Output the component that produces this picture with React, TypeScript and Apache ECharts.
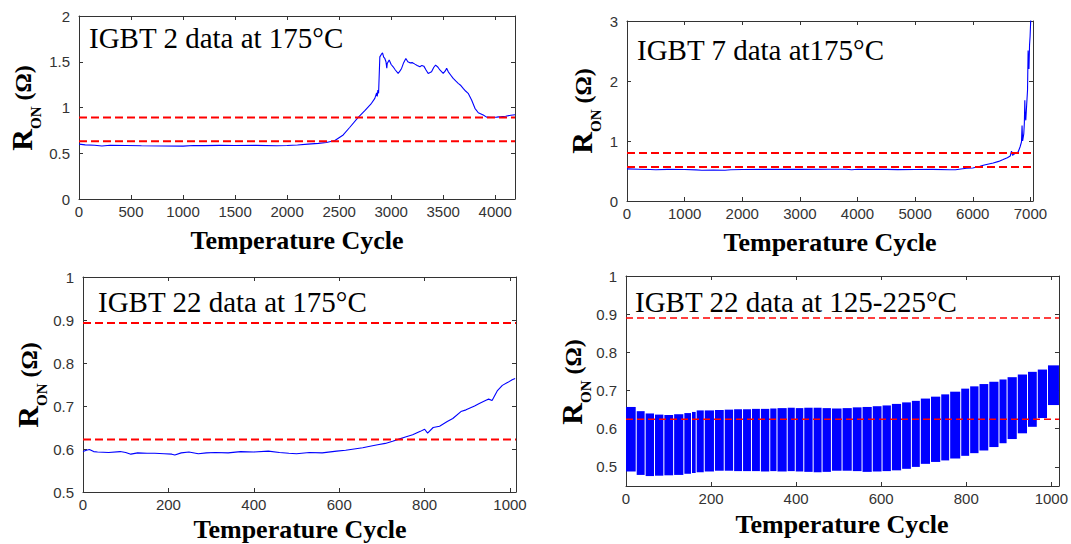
import React, { useEffect, useRef } from "react";
import * as echarts from "echarts";

const SERIF = '"Liberation Serif", "Times New Roman", serif';
const SANS = '"Liberation Sans", Arial, sans-serif';
const BLUE = "#0000ff";
const RED = "#ff0000";
const AXIS = "#333333";

// ---------- IGBT 2 data at 175°C ----------
const ig2Cycles = [0, 60, 150, 220, 300, 450, 600, 800, 1000, 1100, 1200, 1350, 1500, 1700, 1900, 2000, 2100, 2200, 2300, 2379, 2459, 2539, 2603, 2683, 2747, 2811, 2843, 2860, 2866, 2872, 2879, 2891, 2905, 2917, 2928, 2939, 2950, 2958, 2962, 2981, 3000, 3019, 3040, 3067, 3085, 3100, 3120, 3141, 3160, 3180, 3205, 3228, 3250, 3276, 3295, 3314, 3335, 3356, 3388, 3410, 3427, 3450, 3468, 3500, 3520, 3533, 3549, 3575, 3596, 3620, 3644, 3670, 3692, 3715, 3740, 3773, 3805, 3837, 3885, 3917, 3960, 4013, 4060, 4100, 4150, 4190];
const ig2Ron = [0.600, 0.592, 0.588, 0.580, 0.587, 0.585, 0.582, 0.580, 0.578, 0.585, 0.583, 0.586, 0.584, 0.586, 0.582, 0.585, 0.590, 0.600, 0.608, 0.617, 0.640, 0.700, 0.784, 0.893, 0.965, 1.046, 1.100, 1.160, 1.120, 1.190, 1.155, 1.553, 1.580, 1.597, 1.550, 1.536, 1.500, 1.430, 1.480, 1.520, 1.470, 1.445, 1.410, 1.372, 1.400, 1.427, 1.490, 1.536, 1.500, 1.488, 1.490, 1.474, 1.460, 1.445, 1.460, 1.452, 1.410, 1.372, 1.390, 1.440, 1.463, 1.440, 1.410, 1.372, 1.400, 1.430, 1.390, 1.350, 1.318, 1.290, 1.264, 1.240, 1.209, 1.180, 1.155, 1.082, 0.991, 0.943, 0.918, 0.895, 0.893, 0.895, 0.900, 0.905, 0.915, 0.920];
const ig2Limits = [0.89, 0.63];

// ---------- IGBT 7 data at 175°C ----------
const ig7Cycles = [0, 200, 400, 500, 700, 1000, 1200, 1300, 1500, 1700, 1800, 2000, 2500, 3000, 3500, 3800, 3900, 4000, 4500, 4700, 5000, 5300, 5600, 5700, 5892, 6000, 6123, 6200, 6354, 6450, 6527, 6600, 6650, 6672, 6690, 6730, 6787, 6820, 6845, 6855, 6865, 6885, 6895, 6903, 6910, 6920, 6935, 6950, 6960, 6968, 6975, 6985, 6995, 7007];
const ig7Ron = [0.535, 0.530, 0.525, 0.520, 0.527, 0.525, 0.518, 0.512, 0.515, 0.512, 0.520, 0.525, 0.527, 0.527, 0.528, 0.530, 0.520, 0.528, 0.527, 0.523, 0.526, 0.527, 0.522, 0.520, 0.545, 0.550, 0.578, 0.600, 0.633, 0.660, 0.690, 0.720, 0.750, 0.830, 0.760, 0.790, 0.817, 0.900, 0.983, 1.260, 1.000, 1.120, 1.300, 1.680, 1.400, 1.345, 1.600, 1.845, 2.510, 2.300, 2.200, 2.600, 2.750, 3.050];
const ig7Limits = [0.80, 0.567];

// ---------- IGBT 22 data at 175°C ----------
const ig22Cycles = [0, 8, 15, 25, 34, 60, 87, 100, 112, 128, 150, 168, 190, 208, 215, 230, 248, 270, 289, 310, 340, 369, 400, 434, 460, 482, 500, 530, 560, 594, 615, 635, 655, 675, 690, 708, 725, 740, 755, 772, 790, 800, 807, 820, 835, 853, 866, 885, 897, 917, 928, 945, 950, 958, 970, 982, 995, 1005, 1012];
const ig22Ron = [0.594, 0.597, 0.599, 0.594, 0.593, 0.592, 0.594, 0.592, 0.588, 0.591, 0.590, 0.590, 0.589, 0.588, 0.586, 0.591, 0.593, 0.589, 0.591, 0.592, 0.591, 0.594, 0.593, 0.595, 0.592, 0.590, 0.589, 0.592, 0.591, 0.595, 0.597, 0.600, 0.603, 0.607, 0.610, 0.613, 0.618, 0.623, 0.628, 0.633, 0.641, 0.646, 0.637, 0.650, 0.653, 0.664, 0.671, 0.687, 0.691, 0.700, 0.706, 0.714, 0.716, 0.713, 0.735, 0.748, 0.755, 0.761, 0.764];
const ig22Limits = [0.893, 0.622];

// ---------- IGBT 22 data at 125-225°C (cycling band, segments between gaps) ----------
const bandEdges = [0, 24, 45, 67, 89, 112, 136, 154, 165, 184, 208, 231, 253, 274, 295, 316, 338, 355, 379, 398, 418, 440, 461, 483, 508, 532, 555, 579, 602, 624, 648, 671, 692, 716, 740, 761, 787, 808, 830, 853, 877, 896, 920, 944, 967, 991, 1018];
const bandHigh = [0.657, 0.646, 0.640, 0.637, 0.636, 0.638, 0.641, 0.644, 0.648, 0.648, 0.649, 0.650, 0.651, 0.651, 0.652, 0.652, 0.653, 0.654, 0.655, 0.654, 0.655, 0.655, 0.654, 0.653, 0.654, 0.656, 0.657, 0.659, 0.661, 0.665, 0.669, 0.673, 0.679, 0.684, 0.690, 0.697, 0.705, 0.711, 0.717, 0.723, 0.729, 0.735, 0.742, 0.749, 0.755, 0.766];
const bandLow = [0.488, 0.479, 0.476, 0.477, 0.478, 0.479, 0.482, 0.484, 0.486, 0.488, 0.490, 0.490, 0.489, 0.489, 0.489, 0.488, 0.489, 0.488, 0.489, 0.488, 0.487, 0.486, 0.487, 0.490, 0.490, 0.489, 0.487, 0.488, 0.489, 0.491, 0.495, 0.500, 0.508, 0.513, 0.517, 0.522, 0.529, 0.536, 0.543, 0.552, 0.562, 0.573, 0.588, 0.605, 0.628, 0.662];
const bandLimits = [0.89, 0.625];

// axis ranges
const xRanges = [
  { min: 0, max: 4190, interval: 500 },
  { min: 0, max: 7045, interval: 1000 },
  { min: 0, max: 1014, interval: 200 },
  { min: 0, max: 1018, interval: 200 },
];
const yRanges: any[] = [
  { min: 0, max: 2, interval: 0.5 },
  { min: 0, max: 3, interval: 1 },
  { min: 0.5, max: 1, interval: 0.1 },
  { min: 0.45, max: 1 },
];

const titles = [
  "IGBT 2 data at 175°C",
  "IGBT 7 data at175°C",
  "IGBT 22 data at 175°C",
  "IGBT 22 data at 125-225°C",
];
const xName = "Temperature Cycle";

const grids = [
  { left: 79, top: 16, width: 436, height: 183 },
  { left: 627, top: 21, width: 406, height: 180 },
  { left: 83, top: 277, width: 433, height: 215 },
  { left: 626, top: 276, width: 433, height: 210 },
];
const titlePos = [
  [89, 38],
  [637, 50],
  [98, 302],
  [635, 302],
];
const xNamePos = [
  [297, 240],
  [830, 242],
  [300, 529],
  [842, 524],
];
const yNamePos = [
  [21, 108],
  [581, 111],
  [27, 385],
  [571, 382],
];

function pairs(xs: number[], ys: number[]) {
  return xs.map((x, i) => [x, ys[i]]);
}

const fmt = (v: number) => String(Number(v.toFixed(3)));

function makeXAxis(i: number, top: boolean) {
  const r = xRanges[i];
  return {
    type: "value",
    gridIndex: i,
    position: top ? "top" : "bottom",
    min: r.min,
    max: r.max,
    interval: r.interval,
    axisLine: { show: true, onZero: false, lineStyle: { color: AXIS, width: 1 } },
    axisTick: { show: true, inside: true, length: 4, lineStyle: { color: AXIS } },
    axisLabel: {
      show: !top,
      color: "#333",
      fontFamily: SANS,
      fontSize: 15,
      margin: 5,
      showMaxLabel: false,
      formatter: fmt,
    },
    splitLine: { show: false },
  };
}

function makeYAxis(i: number, right: boolean) {
  const r = yRanges[i];
  const ax: any = {
    type: "value",
    gridIndex: i,
    position: right ? "right" : "left",
    min: r.min,
    max: r.max,
    axisLine: { show: true, onZero: false, lineStyle: { color: AXIS, width: 1 } },
    axisTick: { show: true, inside: true, length: 4, lineStyle: { color: AXIS } },
    axisLabel: {
      show: !right,
      color: "#333",
      fontFamily: SANS,
      fontSize: 15,
      margin: 9,
      showMinLabel: i === 3 ? false : true,
      showMaxLabel: true,
      formatter: fmt,
    },
    splitLine: { show: false },
  };
  if (r.interval !== undefined) ax.interval = r.interval;
  return ax;
}

function limitSeries(limits: number[], gi: number, width: number, dash: number[]) {
  const xmax = xRanges[gi].max;
  return limits.map((v) => ({
    type: "line",
    xAxisIndex: gi * 2,
    yAxisIndex: gi * 2,
    data: [
      [xRanges[gi].min, v],
      [xmax, v],
    ],
    symbol: "none",
    silent: true,
    z: 5,
    lineStyle: { color: RED, width, type: dash },
  }));
}

function dataLine(xs: number[], ys: number[], gi: number) {
  return {
    type: "line",
    xAxisIndex: gi * 2,
    yAxisIndex: gi * 2,
    data: pairs(xs, ys),
    symbol: "none",
    silent: true,
    clip: true,
    z: 3,
    lineStyle: { color: BLUE, width: 1.1 },
  };
}

function yLabel(x: number, y: number) {
  return {
    type: "text",
    x,
    y,
    rotation: Math.PI / 2,
    silent: true,
    style: {
      text: "{r|R}{s|ON}{p| (Ω)}",
      align: "center",
      verticalAlign: "middle",
      fill: "#000",
      rich: {
        r: { fontFamily: SERIF, fontWeight: "bold", fontSize: 30, lineHeight: 30, verticalAlign: "top", fill: "#000" },
        s: { fontFamily: SERIF, fontWeight: "bold", fontSize: 15, lineHeight: 15, padding: [22, 0, 0, 0], verticalAlign: "top", fill: "#000" },
        p: { fontFamily: SERIF, fontWeight: "bold", fontSize: 24, lineHeight: 24, padding: [5, 0, 0, 0], verticalAlign: "top", fill: "#000" },
      },
    },
  };
}

export default function App() {
  const ref = useRef<HTMLDivElement>(null);

  useEffect(() => {
    if (!ref.current) return;
    const chart = echarts.init(ref.current, undefined, { renderer: "svg" });

    const xAxis: any[] = [];
    const yAxis: any[] = [];
    for (let i = 0; i < 4; i++) {
      xAxis.push(makeXAxis(i, false), makeXAxis(i, true));
      yAxis.push(makeYAxis(i, false), makeYAxis(i, true));
    }

    const bandData = bandHigh.map((h, i) => [bandEdges[i], bandEdges[i + 1], bandLow[i], h]);

    const graphic: any[] = [];
    titles.forEach((t, i) => {
      graphic.push({
        type: "text",
        x: titlePos[i][0],
        y: titlePos[i][1],
        silent: true,
        style: { text: t, fontFamily: SERIF, fontSize: 29, fill: "#000", align: "left", verticalAlign: "middle" },
      });
      graphic.push({
        type: "text",
        x: xNamePos[i][0],
        y: xNamePos[i][1],
        silent: true,
        style: { text: xName, fontFamily: SERIF, fontWeight: "bold", fontSize: 26, fill: "#000", align: "center", verticalAlign: "middle" },
      });
      graphic.push(yLabel(yNamePos[i][0], yNamePos[i][1]));
    });

    const option: any = {
      animation: false,
      backgroundColor: "#ffffff",
      grid: grids.map((g) => ({ ...g, containLabel: false })),
      xAxis,
      yAxis,
      graphic,
      series: [
        dataLine(ig2Cycles, ig2Ron, 0),
        ...limitSeries(ig2Limits, 0, 2, [8, 4]),
        dataLine(ig7Cycles, ig7Ron, 1),
        ...limitSeries(ig7Limits, 1, 2, [8, 4]),
        dataLine(ig22Cycles, ig22Ron, 2),
        ...limitSeries(ig22Limits, 2, 2, [8, 4]),
        {
          type: "custom",
          xAxisIndex: 6,
          yAxisIndex: 6,
          data: bandData,
          encode: { x: [0, 1], y: [2, 3] },
          silent: true,
          clip: true,
          z: 2,
          renderItem: (params: any, api: any) => {
            const s = api.value(0);
            const e = api.value(1);
            const lo = api.value(2);
            const hi = api.value(3);
            const a = api.coord([s, hi]);
            const b = api.coord([e, lo]);
            const gapL = s === bandEdges[0] ? 0 : 0.5;
            const gapR = e === bandEdges[bandEdges.length - 1] ? 0 : 0.5;
            return {
              type: "rect",
              shape: {
                x: a[0] + gapL,
                y: a[1],
                width: Math.max(0.5, b[0] - a[0] - gapL - gapR),
                height: b[1] - a[1],
              },
              style: { fill: BLUE },
            };
          },
        },
        ...limitSeries(bandLimits, 3, 1.6, [7, 4]),
      ],
    };

    chart.setOption(option);
    return () => chart.dispose();
  }, []);

  return (
    <div
      ref={ref}
      style={{ position: "fixed", left: 0, top: 0, width: 1071, height: 544, background: "#fff" }}
    />
  );
}
